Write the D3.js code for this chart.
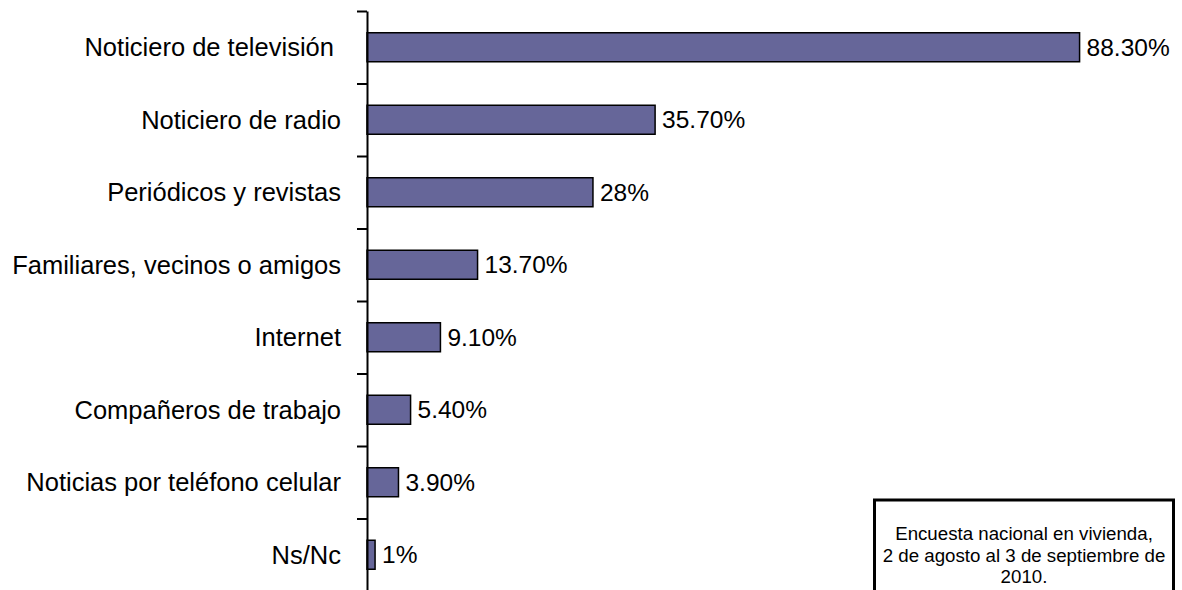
<!DOCTYPE html>
<html>
<head>
<meta charset="utf-8">
<script src="https://cdn.jsdelivr.net/npm/d3@7"></script>
<style>
  html, body { margin: 0; padding: 0; background: #fff; }
  svg { display: block; }
  text { font-family: "Liberation Sans", Arial, sans-serif; fill: #000; }
</style>
</head>
<body>
<svg id="chart" width="1182" height="590"></svg>
<script>
const categories = [
  "Noticiero de televisión ",
  "Noticiero de radio",
  "Periódicos y revistas",
  "Familiares, vecinos o amigos",
  "Internet",
  "Compañeros de trabajo",
  "Noticias por teléfono celular",
  "Ns/Nc"
];
const values = [88.3, 35.7, 28, 13.7, 9.1, 5.4, 3.9, 1];
const valueLabels = ["88.30%", "35.70%", "28%", "13.70%", "9.10%", "5.40%", "3.90%", "1%"];
const noteLines = [
  "Encuesta nacional en vivienda,",
  "2 de agosto al 3 de septiembre de",
  "2010."
];

const svg = d3.select("#chart");
const axisX = 367, plotTop = 11, step = 72.5;
const plotBottom = plotTop + step * categories.length;

const x = d3.scaleLinear().domain([0, 100]).range([axisX, 1174]);
const y = d3.scaleBand().domain(categories).range([plotTop, plotBottom])
  .paddingInner(0.6).paddingOuter(0.3);
const yTicks = d3.scaleLinear().domain([0, categories.length]).range([plotTop, plotBottom]);

// bars
svg.append("g").selectAll("rect").data(categories).join("rect")
  .attr("x", x(0))
  .attr("y", d => y(d))
  .attr("width", (d, i) => x(values[i]) - x(0))
  .attr("height", y.bandwidth())
  .attr("fill", "#666699")
  .attr("stroke", "#000")
  .attr("stroke-width", 1.5);

// axis with boundary ticks
const ax = svg.append("g").attr("transform", `translate(${axisX},0)`)
  .call(d3.axisLeft(yTicks).ticks(categories.length).tickSize(10).tickSizeOuter(0).tickFormat(""));
ax.select(".domain").attr("stroke", "#000").attr("stroke-width", 2);
ax.selectAll(".tick line").attr("stroke", "#000").attr("stroke-width", 2);

// category labels
svg.append("g").selectAll("text").data(categories).join("text")
  .attr("x", 341)
  .attr("y", d => y(d) + y.bandwidth() / 2)
  .attr("dy", "0.35em")
  .attr("text-anchor", "end")
  .style("white-space", "pre")
  .style("font-size", "25.5px")
  .text(d => d);

// value labels
svg.append("g").selectAll("text").data(categories).join("text")
  .attr("x", (d, i) => x(values[i]) + 7)
  .attr("y", d => y(d) + y.bandwidth() / 2)
  .attr("dy", "0.35em")
  .style("font-size", "24.5px")
  .text((d, i) => valueLabels[i]);

// note box
svg.append("rect")
  .attr("x", 874.5).attr("y", 500)
  .attr("width", 299).attr("height", 130)
  .attr("fill", "#fff").attr("stroke", "#000").attr("stroke-width", 3);
svg.append("g").selectAll("text").data(noteLines).join("text")
  .attr("x", 1024)
  .attr("y", (d, i) => 540 + i * 21.5)
  .attr("text-anchor", "middle")
  .style("font-size", "18.7px")
  .text(d => d);
</script>
</body>
</html>
